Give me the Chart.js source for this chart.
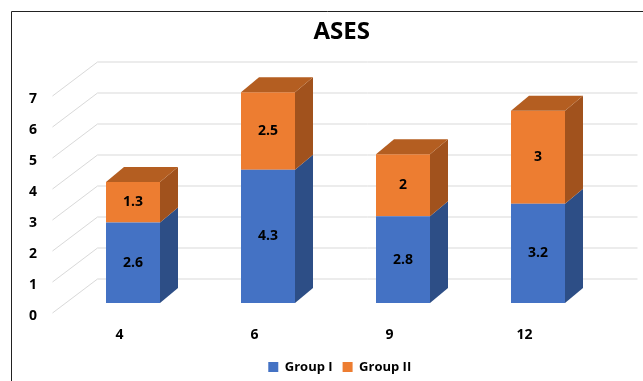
<!DOCTYPE html>
<html>
<head>
<meta charset="utf-8">
<script src="https://cdn.jsdelivr.net/npm/chart.js@4.4.1/dist/chart.umd.min.js"></script>
<style>
  body { margin: 0; background: #fff; }
</style>
</head>
<body>
<canvas id="myChart" width="643" height="381"></canvas>
<script>
const categories = ["4", "6", "9", "12"];
const groupOne = [2.6, 4.3, 2.8, 3.2];
const groupTwo = [1.3, 2.5, 2, 3];
const yTicks = [0, 1, 2, 3, 4, 5, 6, 7];

// 3d look: offsets for bar depth, back wall and front labels
const depth = { dx: 18, dy: 15 };
const wall = { dx: 32, dy: 24 };
const front = { dx: -13, dy: 10 };

const sideColors = ["#2d4e86", "#a1521d"];
const topColors = ["#3a62a8", "#b45e21"];

Chart.defaults.font.family = "'Open Sans', sans-serif";
Chart.defaults.color = "#000";

const frame3d = {
  id: "frame3d",
  afterLayout(chart) {
    // the original centres title and legend on the whole frame, not the padded box
    chart.titleBlock.left += 39;
    chart.titleBlock.right += 39;
    chart.legend.left += 37;
    chart.legend.right += 37;
    chart.legend.top += 2.5;
    chart.legend.bottom += 2.5;
  },
  beforeDraw(chart) {
    const c = chart.ctx;
    c.save();
    c.fillStyle = "#fff";
    c.fillRect(0, 0, chart.width, chart.height);
    c.strokeStyle = "#222";
    c.lineWidth = 1;
    c.beginPath();
    c.moveTo(11.5, chart.height);
    c.lineTo(11.5, 11.5);
    c.lineTo(chart.width, 11.5);
    c.stroke();
    c.restore();
  },
  beforeDatasetsDraw(chart) {
    const c = chart.ctx;
    const y = chart.scales.y;
    const area = chart.chartArea;
    c.save();
    c.strokeStyle = "#d9d9d9";
    c.lineWidth = 1;
    yTicks.forEach(function (v) {
      const py = y.getPixelForValue(v);
      c.beginPath();
      c.moveTo(area.left + front.dx, py + front.dy);
      c.lineTo(area.left + wall.dx, py - wall.dy);
      c.lineTo(area.right + wall.dx, py - wall.dy);
      c.stroke();
    });
    c.restore();
  },
  afterDatasetsDraw(chart) {
    const c = chart.ctx;
    const last = chart.data.datasets.length - 1;
    c.save();
    chart.data.datasets.forEach(function (ds, di) {
      const meta = chart.getDatasetMeta(di);
      meta.data.forEach(function (bar, i) {
        const x1 = bar.x - bar.width / 2;
        const x2 = bar.x + bar.width / 2;
        const top = Math.min(bar.y, bar.base);
        const bot = Math.max(bar.y, bar.base);
        // side face
        c.fillStyle = sideColors[di];
        c.beginPath();
        c.moveTo(x2, top);
        c.lineTo(x2 + depth.dx, top - depth.dy);
        c.lineTo(x2 + depth.dx, bot - depth.dy);
        c.lineTo(x2, bot);
        c.closePath();
        c.fill();
        // top face only on the top segment
        if (di == last) {
          c.fillStyle = topColors[di];
          c.beginPath();
          c.moveTo(x1, top);
          c.lineTo(x1 + depth.dx, top - depth.dy);
          c.lineTo(x2 + depth.dx, top - depth.dy);
          c.lineTo(x2, top);
          c.closePath();
          c.fill();
        }
        // value label
        c.fillStyle = "#000";
        c.font = "bold 14px 'Open Sans', sans-serif";
        c.textAlign = "center";
        c.textBaseline = "middle";
        c.fillText(String(ds.data[i]), bar.x, (top + bot) / 2);
      });
    });
    c.restore();
  }
};

const data = {
  labels: categories,
  datasets: [
    {
      label: "Group I",
      data: groupOne,
      backgroundColor: "#4472c4",
      borderWidth: 0,
      categoryPercentage: 1,
      barPercentage: 0.4,
    },
    {
      label: "Group II",
      data: groupTwo,
      backgroundColor: "#ed7d31",
      borderWidth: 0,
      categoryPercentage: 1,
      barPercentage: 0.4,
    },
  ],
};

const config = {
  type: "bar",
  data: data,
  options: {
    responsive: false,
    animation: false,
    layout: { padding: { top: 0, left: 0, right: 37.5, bottom: 0 } },
    plugins: {
      title: {
        display: true,
        text: "ASES",
        font: { size: 24, weight: "bold" },
        color: "#000",
        padding: { top: 17.6, bottom: 39.6 },
      },
      legend: {
        position: "bottom",
        labels: {
          boxWidth: 10,
          boxHeight: 10,
          padding: 10,
          color: "#000",
          font: { size: 13, weight: "bold" },
        },
      },
      tooltip: { enabled: false },
    },
    scales: {
      x: {
        stacked: true,
        grid: { display: false },
        border: { display: false },
        ticks: { padding: 16, labelOffset: -13.5, font: { size: 14, weight: "bold" } },
        afterFit(scale) {
          scale.height = 45;
        },
      },
      y: {
        stacked: true,
        min: 0,
        max: 7,
        grid: { display: false },
        border: { display: false },
        ticks: { stepSize: 1, padding: 20.5, labelOffset: 13, font: { size: 14, weight: "bold" } },
        afterFit(scale) {
          scale.width = 65.5;
        },
      },
    },
  },
  plugins: [frame3d],
};

const myChart = new Chart(document.getElementById("myChart"), config);
</script>
</body>
</html>
